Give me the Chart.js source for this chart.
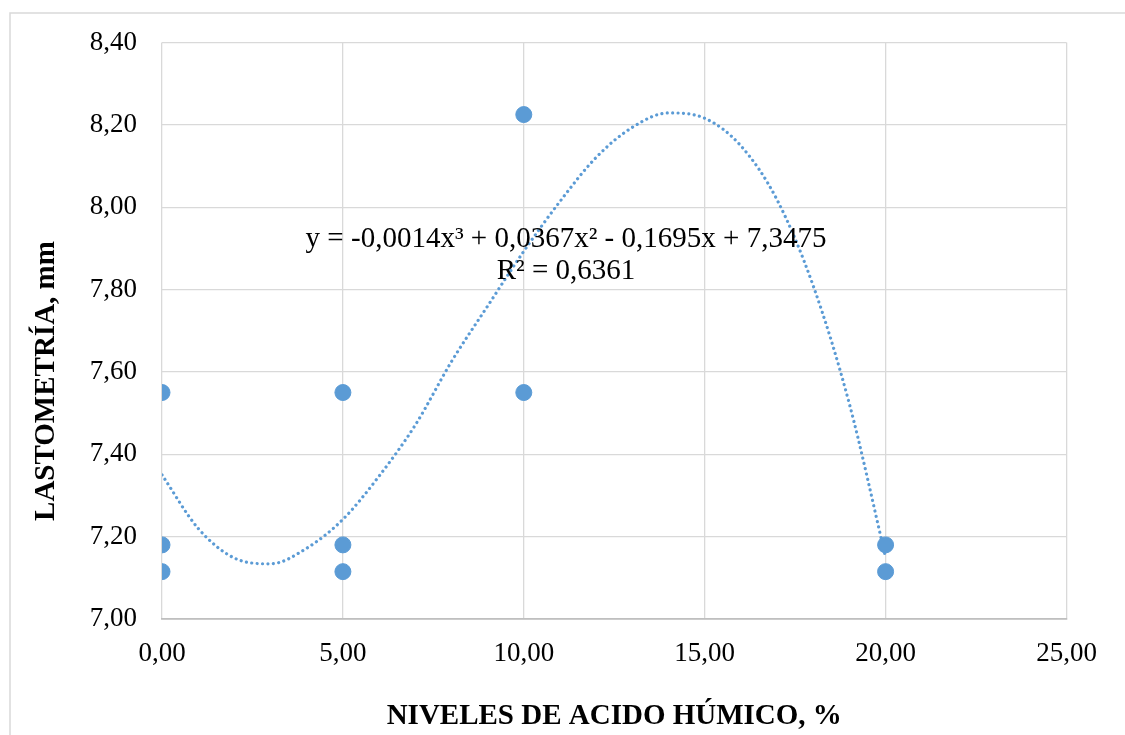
<!DOCTYPE html>
<html>
<head>
<meta charset="utf-8">
<script src="https://cdn.jsdelivr.net/npm/chart.js@4.4.1/dist/chart.umd.min.js"></script>
<style>
  html, body { margin: 0; padding: 0; background: #fff; }
  #wrap { width: 1125px; height: 735px; position: relative; }
</style>
</head>
<body>
<div id="wrap"><canvas id="lastChart" width="1125" height="735"></canvas></div>
<script>
// Measured points (niveles de ácido húmico, %  vs  lastometría, mm)
const pointX = [0, 0, 0, 5, 5, 5, 10, 10, 20, 20];
const pointY = [7.55, 7.18, 7.115, 7.55, 7.18, 7.115, 8.225, 7.55, 7.18, 7.115];

// Polynomial trendline
const trendX = [0, 1, 2, 3, 4, 5, 6, 7, 8, 9, 10, 11, 12, 13, 14, 15, 16, 17, 18, 19, 20];
const trendY = [7.350, 7.220, 7.148, 7.134, 7.172, 7.242, 7.347, 7.471, 7.625, 7.760, 7.893,
                8.014, 8.121, 8.194, 8.229, 8.216, 8.149, 8.018, 7.809, 7.522, 7.150];

const xTickLabels = ['0,00', '5,00', '10,00', '15,00', '20,00', '25,00'];
const yTickLabels = ['7,00', '7,20', '7,40', '7,60', '7,80', '8,00', '8,20', '8,40'];

const equationText = 'y = -0,0014x\u00B3 + 0,0367x\u00B2 - 0,1695x + 7,3475';
const r2Text = 'R\u00B2 = 0,6361';

const blue = '#5B9BD5';
const gridGrey = '#d9d9d9';
const serif = "'Liberation Serif', 'Times New Roman', serif";

// outer chart frame + y title + trendline label
const decorations = {
    id: 'decorations',
    beforeDraw(chart) {
        const c = chart.ctx;
        c.save();
        c.strokeStyle = gridGrey;
        c.lineWidth = 1.5;
        c.beginPath();
        c.moveTo(10, 735);
        c.lineTo(10, 13);
        c.lineTo(1125, 13);
        c.stroke();
        c.restore();
    },
    afterDraw(chart) {
        const c = chart.ctx;
        c.save();
        c.fillStyle = '#000';
        c.font = 'bold 29px ' + serif;
        c.textAlign = 'center';
        c.textBaseline = 'middle';
        c.translate(47, 381);
        c.rotate(-Math.PI / 2);
        c.fillText('LASTOMETRÍA, mm', 0, 0);
        c.restore();

        c.save();
        c.fillStyle = '#000';
        c.font = '29px ' + serif;
        c.textAlign = 'center';
        c.textBaseline = 'alphabetic';
        c.fillText(equationText, 566, 247);
        c.fillText(r2Text, 566, 279);
        c.restore();
    }
};

const config = {
    type: 'scatter',
    data: {
        datasets: [
            {
                label: 'Lastometría',
                data: pointX.map((x, i) => ({ x: x, y: pointY[i] })),
                backgroundColor: blue,
                borderColor: blue,
                pointRadius: 8,
                pointHoverRadius: 8,
                order: 1
            },
            {
                label: 'Polinómica',
                data: trendX.map((x, i) => ({ x: x, y: trendY[i] })),
                showLine: true,
                borderColor: blue,
                borderWidth: 3.2,
                borderDash: [0.01, 5.4],
                borderCapStyle: 'round',
                cubicInterpolationMode: 'monotone',
                pointRadius: 0,
                fill: false,
                order: 2
            }
        ]
    },
    options: {
        responsive: false,
        animation: false,
        devicePixelRatio: 1,
        layout: { padding: { left: 0, top: 42.5, right: 58.5, bottom: 0 } },
        plugins: {
            legend: { display: false },
            tooltip: { enabled: false }
        },
        scales: {
            x: {
                type: 'linear',
                min: 0,
                max: 25,
                afterFit: (scale) => { scale.height = 116; },
                afterBuildTicks: (scale) => {
                    scale.ticks = xTickLabels.map((t, i) => ({ value: i * 5 }));
                },
                ticks: {
                    font: { family: serif, size: 27 },
                    color: '#000',
                    padding: 19,
                    maxRotation: 0,
                    callback: (v, i) => xTickLabels[i]
                },
                grid: { color: gridGrey, lineWidth: 1.3, drawTicks: false },
                border: { color: '#bfbfbf', width: 1.8 },
                title: {
                    display: true,
                    text: 'NIVELES DE ACIDO HÚMICO, %',
                    color: '#000',
                    font: { family: serif, size: 29, weight: 'bold' },
                    padding: { top: 0, bottom: 1 }
                }
            },
            y: {
                type: 'linear',
                min: 7,
                max: 8.4,
                afterFit: (scale) => { scale.width = 162; },
                afterBuildTicks: (scale) => {
                    scale.ticks = yTickLabels.map((t, i) => ({ value: 7 + i * 0.2 }));
                },
                ticks: {
                    font: { family: serif, size: 27 },
                    color: '#000',
                    padding: 25,
                    callback: (v, i) => yTickLabels[i]
                },
                grid: { color: gridGrey, lineWidth: 1.3, drawTicks: false },
                border: { display: false }
            }
        }
    },
    plugins: [decorations]
};

new Chart(document.getElementById('lastChart'), config);
</script>
</body>
</html>
